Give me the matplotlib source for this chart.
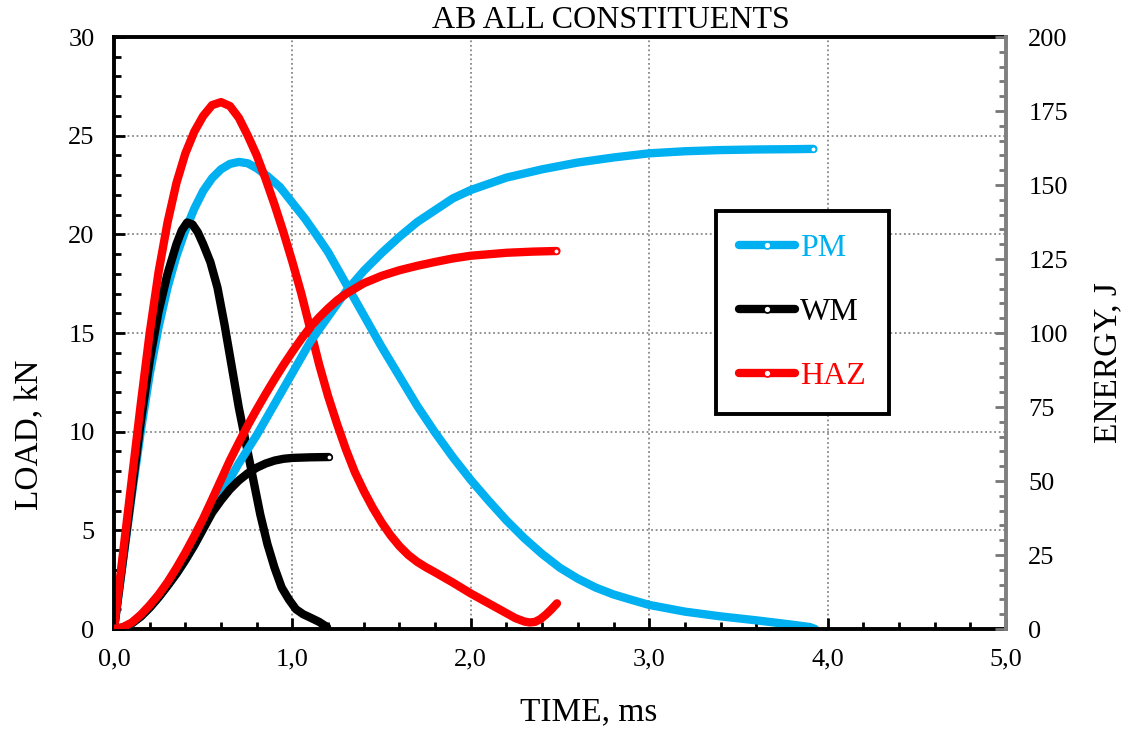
import numpy as np
import matplotlib
matplotlib.use("Agg")
import matplotlib.pyplot as plt
from matplotlib.lines import Line2D
from matplotlib.ticker import MultipleLocator, FuncFormatter

plt.rcParams['font.family'] = ['Liberation Serif', 'DejaVu Serif']

# ---- data ----
# load curves (kN) vs time (ms)
pm_load_t = [0, 0.05, 0.1, 0.15, 0.2, 0.25, 0.3, 0.35, 0.4, 0.45, 0.5, 0.55, 0.6, 0.65, 0.7,
             0.75, 0.8, 0.86, 0.93, 1.0, 1.07, 1.14, 1.2, 1.3, 1.4, 1.5, 1.6, 1.7, 1.8, 1.9,
             2.0, 2.1, 2.2, 2.3, 2.4, 2.5, 2.6, 2.7, 2.8, 2.9, 3.0, 3.2, 3.4, 3.6, 3.8, 3.9, 3.93]
pm_load = [0, 3.4, 6.8, 10.0, 12.9, 15.3, 17.3, 18.9, 20.2, 21.3, 22.2, 22.85, 23.3, 23.57, 23.67,
           23.6, 23.35, 22.95, 22.4, 21.6, 20.8, 19.9, 19.1, 17.5, 15.9, 14.3, 12.8, 11.3, 9.95, 8.7,
           7.55, 6.5, 5.5, 4.6, 3.8, 3.1, 2.55, 2.1, 1.75, 1.48, 1.22, 0.88, 0.64, 0.44, 0.22, 0.1, 0.0]

wm_load_t = [0, 0.05, 0.1, 0.15, 0.2, 0.25, 0.3, 0.35, 0.38, 0.41, 0.44, 0.47, 0.5, 0.54, 0.58,
             0.62, 0.66, 0.70, 0.74, 0.78, 0.82, 0.86, 0.9, 0.94, 0.98, 1.02, 1.06, 1.1, 1.15, 1.194]
wm_load = [0, 3.5, 7.0, 10.5, 13.6, 16.1, 18.0, 19.5, 20.2, 20.6, 20.5, 20.1, 19.5, 18.6, 17.3,
           15.4, 13.3, 11.2, 9.4, 7.6, 5.8, 4.3, 3.1, 2.1, 1.5, 1.0, 0.75, 0.58, 0.36, 0.1]

haz_load_t = [0, 0.05, 0.1, 0.15, 0.2, 0.25, 0.3, 0.35, 0.4, 0.45, 0.5, 0.55, 0.6, 0.65, 0.7,
              0.75, 0.8, 0.85, 0.9, 0.95, 1.0, 1.05, 1.1, 1.15, 1.2, 1.25, 1.3, 1.35, 1.4, 1.45,
              1.5, 1.55, 1.6, 1.65, 1.7, 1.75, 1.8, 1.9, 2.0, 2.1, 2.2, 2.25, 2.3, 2.33, 2.36,
              2.39, 2.42, 2.45, 2.483]
haz_load = [0, 3.8, 7.6, 11.4, 15.0, 18.1, 20.6, 22.6, 24.1, 25.2, 26.0, 26.55, 26.7, 26.5, 25.9,
            25.0, 24.0, 22.8, 21.5, 20.1, 18.6, 17.0, 15.2, 13.4, 11.8, 10.4, 9.1, 7.95, 7.0, 6.15,
            5.4, 4.75, 4.2, 3.75, 3.4, 3.12, 2.87, 2.35, 1.8, 1.3, 0.8, 0.55, 0.38, 0.33, 0.36,
            0.5, 0.72, 0.98, 1.3]

# energy curves (J) vs time (ms)
pm_en_t = [0, 0.05, 0.1, 0.15, 0.2, 0.25, 0.3, 0.35, 0.4, 0.45, 0.5, 0.55, 0.6, 0.7, 0.8, 0.9,
           1.0, 1.1, 1.2, 1.3, 1.4, 1.5, 1.6, 1.7, 1.8, 1.9, 2.0, 2.2, 2.4, 2.6, 2.8, 3.0, 3.2,
           3.4, 3.6, 3.8, 3.92]
pm_en = [0, 0.5, 1.9, 4.2, 7.2, 10.7, 14.6, 18.7, 23.3, 28.3, 34.0, 40.0, 45.5, 56, 65.5, 76,
         86.5, 97, 105.5, 114, 121, 127, 132.5, 137.5, 141.5, 145.5, 148.3, 152.5, 155.3, 157.6,
         159.3, 160.7, 161.4, 161.8, 162.0, 162.1, 162.2]

wm_en_t = [0, 0.05, 0.1, 0.15, 0.2, 0.25, 0.3, 0.35, 0.4, 0.45, 0.5, 0.55, 0.6, 0.65, 0.7,
           0.75, 0.8, 0.85, 0.9, 0.95, 1.0, 1.1, 1.203]
wm_en = [0, 0.5, 1.9, 4.2, 7.2, 10.7, 14.6, 18.7, 23.3, 28.3, 33.8, 39.3, 43.5, 47.2, 50.2,
         52.6, 54.5, 55.9, 56.9, 57.5, 57.8, 58.0, 58.1]

haz_en_t = [0, 0.05, 0.1, 0.15, 0.2, 0.25, 0.3, 0.35, 0.4, 0.45, 0.5, 0.55, 0.6, 0.65, 0.7,
            0.75, 0.8, 0.85, 0.9, 0.95, 1.0, 1.05, 1.1, 1.15, 1.2, 1.25, 1.3, 1.4, 1.5, 1.6,
            1.7, 1.8, 1.9, 2.0, 2.2, 2.35, 2.48]
haz_en = [0, 0.6, 2.2, 4.8, 8.0, 11.6, 15.8, 20.6, 25.8, 31.4, 37.3, 43.8, 50.4, 57.0, 63.0,
          68.8, 74.2, 79.4, 84.4, 89.2, 93.7, 98.0, 102.0, 105.3, 108.3, 111.0, 113.2, 116.8,
          119.3, 121.2, 122.7, 124.0, 125.2, 126.1, 127.1, 127.5, 127.7]

names = ['PM', 'WM', 'HAZ']
colors = ['#00B0F0', '#000000', '#FF0000']

fig = plt.figure(figsize=(11.27, 7.31), dpi=100)
ax = fig.add_axes([114 / 1127, 1 - 629 / 731, 892 / 1127, 592 / 731])
ax2 = ax.twinx()

lw = 6.0
loads = [(pm_load_t, pm_load), (wm_load_t, wm_load), (haz_load_t, haz_load)]
energies = [(pm_en_t, pm_en), (wm_en_t, wm_en), (haz_en_t, haz_en)]
handles = []
for (lt, lv), (et, ev), c, n in zip(loads, energies, colors, names):
    ax.plot(lt, lv, color=c, lw=lw, solid_capstyle='round', solid_joinstyle='round')
    ax2.plot(et, ev, color=c, lw=lw, solid_capstyle='round', solid_joinstyle='round',
             marker='o', markevery=[-1], ms=4, mfc='white', mec=c, mew=1.2)
    handles.append(Line2D([], [], color=c, lw=lw, solid_capstyle='round', marker='o',
                          ms=5, mfc='white', mec=c, mew=1.2, label=n))

ax.set_xlim(0, 5)
ax.set_ylim(0, 30)
ax2.set_ylim(0, 200)

ax.xaxis.set_major_locator(MultipleLocator(1))
ax.xaxis.set_minor_locator(MultipleLocator(0.2))
ax.yaxis.set_major_locator(MultipleLocator(5))
ax.yaxis.set_minor_locator(MultipleLocator(1))
ax2.yaxis.set_major_locator(MultipleLocator(25))
ax2.yaxis.set_minor_locator(MultipleLocator(5))
ax.xaxis.set_major_formatter(FuncFormatter(lambda v, p: f"{v:.1f}".replace('.', ',')))

ax.grid(True, which='major', linestyle=(0, (1, 1.5)), color='#888888', lw=1.3)

ax.tick_params(which='both', direction='in', width=2, labelsize=19, top=False, right=False)
ax.tick_params(which='major', length=8)
ax.tick_params(which='minor', length=5)
ax.tick_params(axis='y', pad=14)
ax.tick_params(axis='x', pad=14)
ax2.tick_params(which='both', direction='in', width=2, labelsize=19, color='#777777', pad=16)
ax2.tick_params(which='major', length=8)
ax2.tick_params(which='minor', length=5)

for s in ['left', 'bottom', 'top']:
    ax.spines[s].set_linewidth(2.8)
    ax.spines[s].set_color('black')
for s in ['left', 'bottom', 'top']:
    ax2.spines[s].set_visible(False)
ax2.spines['right'].set_linewidth(2.8)
ax2.spines['right'].set_color('#7f7f7f')
ax.spines['right'].set_visible(False)

fig.text(611 / 1127, 1 - 20 / 731, 'AB ALL CONSTITUENTS', ha='center', va='center', fontsize=23)
fig.text(589 / 1127, 1 - 712 / 731, 'TIME, ms', ha='center', va='center', fontsize=24)
fig.text(30 / 1127, 1 - 435 / 731, 'LOAD, kN', ha='center', va='center', rotation=90, fontsize=24)
fig.text(1108 / 1127, 1 - 363 / 731, 'ENERGY, J', ha='center', va='center', rotation=90, fontsize=24)

leg = ax2.legend(handles=handles, loc='upper left', bbox_to_anchor=(0.675, 0.706),
                 fontsize=23, labelcolor='linecolor', fancybox=False, framealpha=1,
                 edgecolor='black', borderpad=0.72, labelspacing=1.08, handlelength=1.75,
                 handletextpad=0.15, numpoints=1, borderaxespad=0)
leg.get_frame().set_linewidth(2.8)

fig.savefig('out.png', dpi=100)
